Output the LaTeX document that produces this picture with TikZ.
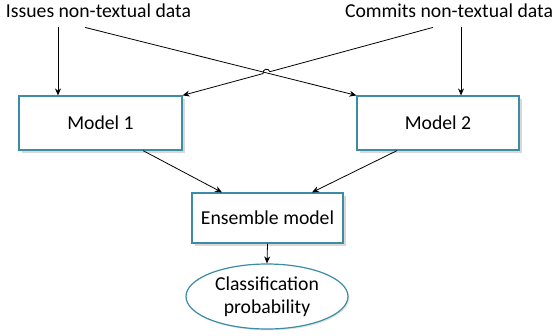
\documentclass[tikz,border=0pt]{standalone}
\usepackage{fontspec}
\setmainfont{Carlito}
\usepackage{tikz}
\usetikzlibrary{arrows.meta}
\usetikzlibrary{calc}
\usetikzlibrary{shadows}
\usetikzlibrary{shapes.geometric}
\definecolor{boxline}{RGB}{60,140,165}

\begin{document}
\begin{tikzpicture}[->,>={Stealth[length=7pt,width=6pt]},x=1pt,y=1pt,line width=0.8pt, font=\fontsize{19.7}{23}\selectfont]
      \tikzstyle{data} = [inner sep=0pt, minimum height=32pt, align=center]
      \tikzstyle{model node} = [rectangle, draw=boxline, line width=1.2pt, fill=white, align=center,
         drop shadow={shadow xshift=2.5pt, shadow yshift=-2.5pt, fill=black!30, opacity=0.5}]
      \tikzstyle{result node} = [ellipse, draw=boxline, line width=1.2pt, fill=white, align=center,
         inner sep=0pt, minimum width=162pt, minimum height=65pt,
         drop shadow={shadow xshift=1.5pt, shadow yshift=-1.5pt, fill=black!20, opacity=0.5}]
      \useasboundingbox (0,0) rectangle (556,-335);
      %nodes
      \node[data]   (issues)  at (98.5,-11)    {Issues non-textual data};
      \node[data]   (commits) at (449,-11)   {Commits non-textual data};
      \node[model node, minimum width=163pt, minimum height=54pt] (model1) at (100.5,-123) {Model 1};
      \node[model node, minimum width=162pt, minimum height=54pt] (model2) at (438,-123)   {Model 2};
      \node[model node, minimum width=151pt, minimum height=50pt] (ensemble) at (267.5,-218) {Ensemble model};
      \node[result node] (result) at (267,-296.5) {Classification\\probability};

      %lines
      \draw ([xshift=-40.5pt]issues.south) -- ([xshift=-42.5pt]model1.north);
      \draw ([xshift=12pt]commits.south) -- ([xshift=23pt]model2.north);
      \draw ([xshift=-13.5pt]issues.south) -- (model2.north west);
      \draw ([xshift=-16pt]commits.south) coordinate (c0)
         -- ($(c0)!0.6516!(model1.north east)$) arc[start angle=15.4, end angle=195.4, radius=3.5]
         -- (model1.north east);
      \draw ([xshift=42.5pt]model1.south) -- ([xshift=-45.5pt]ensemble.north);
      \draw ([xshift=-41pt]model2.south) -- ([xshift=44.5pt]ensemble.north);
      \draw (ensemble.south) -- (result.north);
    \end{tikzpicture}
\end{document}
